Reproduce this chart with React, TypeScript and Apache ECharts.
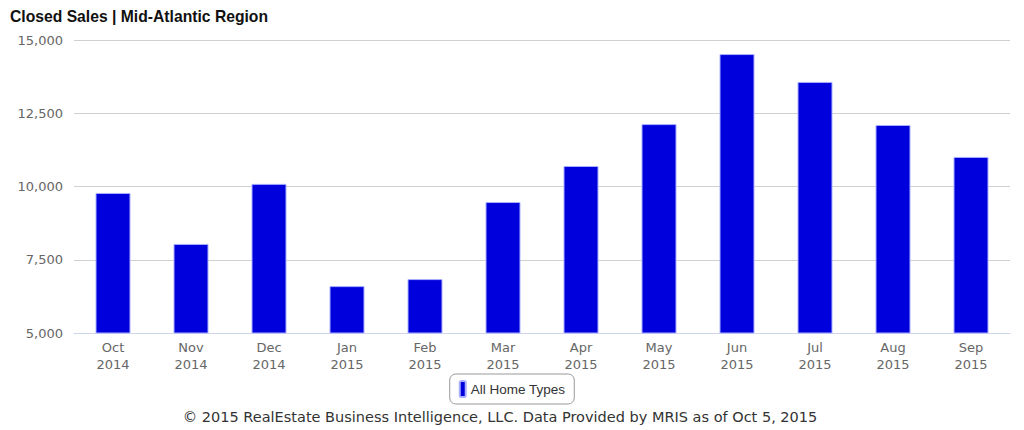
import React, { useEffect, useRef } from "react";
import * as echarts from "echarts";

const titleText = "Closed Sales | Mid-Atlantic Region";
const footerText = "© 2015 RealEstate Business Intelligence, LLC. Data Provided by MRIS as of Oct 5, 2015";
const seriesName = "All Home Types";
const months = ["Oct", "Nov", "Dec", "Jan", "Feb", "Mar", "Apr", "May", "Jun", "Jul", "Aug", "Sep"];
const years = ["2014", "2014", "2014", "2015", "2015", "2015", "2015", "2015", "2015", "2015", "2015", "2015"];
const closedSales = [9780, 8040, 10090, 6600, 6840, 9470, 10700, 12130, 14520, 13570, 12100, 11010];

export default function App() {
  const ref = useRef<HTMLDivElement>(null);
  useEffect(() => {
    if (!ref.current) return;
    const chart = echarts.init(ref.current, undefined, { renderer: "svg" });
    const categories = months.map((m, i) => m + "\n" + years[i]);
    chart.setOption({
      animation: false,
      title: {
        text: titleText,
        left: 5,
        top: 3,
        textStyle: { fontFamily: "Liberation Sans", fontWeight: "bold", fontSize: 15.7, color: "#111" },
      },
      graphic: [
        {
          type: "text",
          x: 500,
          y: 417,
          style: {
            text: footerText,
            font: "14.5px 'DejaVu Sans'",
            fill: "#333",
            textAlign: "center",
            textVerticalAlign: "middle",
          },
        },
      ],
      legend: {
        top: 374,
        left: "center",
        data: [seriesName],
        icon: "roundRect",
        itemWidth: 6,
        itemHeight: 16,
        itemGap: 5,
        borderColor: "#999",
        borderWidth: 1,
        borderRadius: 6,
        padding: [6, 9, 6, 9],
        textStyle: { fontFamily: "Liberation Sans", fontSize: 13.5, color: "#333" },
      },
      grid: { left: 74, right: 14, top: 40, bottom: 97 },
      xAxis: {
        type: "category",
        data: categories,
        axisLine: { lineStyle: { color: "#ccd6eb" } },
        axisTick: { show: false },
        axisLabel: { fontFamily: "DejaVu Sans", fontSize: 13, color: "#666", lineHeight: 17, margin: 6 },
      },
      yAxis: {
        type: "value",
        min: 5000,
        max: 15000,
        interval: 2500,
        axisLine: { show: false },
        axisTick: { show: false },
        splitLine: { lineStyle: { color: "#d0d0d0" } },
        axisLabel: {
          fontFamily: "DejaVu Sans",
          fontSize: 13,
          color: "#666",
          margin: 11,
          formatter: (v: number) => v.toLocaleString("en-US"),
        },
      },
      series: [
        {
          name: seriesName,
          type: "bar",
          data: closedSales,
          barWidth: 35,
          itemStyle: { color: "#0000dd", borderColor: "#aab0ff", borderWidth: 1 },
        },
      ],
    });
    return () => chart.dispose();
  }, []);
  return <div ref={ref} style={{ width: 1024, height: 430, position: "absolute", left: 0, top: 0 }} />;
}
